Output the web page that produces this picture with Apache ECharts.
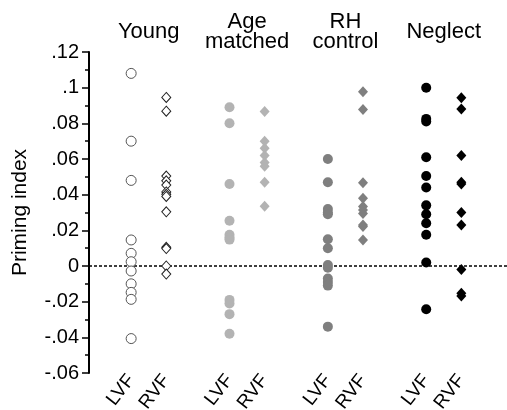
<!DOCTYPE html>
<html>
<head>
<meta charset="utf-8">
<script src="https://cdn.jsdelivr.net/npm/echarts@6/dist/echarts.min.js"></script>
<style>
  html, body { margin: 0; padding: 0; background: #fff; }
  #chart { width: 507px; height: 410px; }
</style>
</head>
<body>
<div id="chart"></div>
<script>
// x positions of the columns (LVF / RVF per group)
var xPositions = [1, 2, 3.8, 4.8, 6.6, 7.6, 9.4, 10.4];
var xLabels = ['LVF', 'RVF', 'LVF', 'RVF', 'LVF', 'RVF', 'LVF', 'RVF'];
var groupCenters = [1.5, 4.3, 7.1, 9.9];
var groupNames = ['Young', 'Age\nmatched', 'RH\ncontrol', 'Neglect'];

// priming index per subject
var youngLVF = [0.108, 0.070, 0.048, 0.0146, 0.0071, 0.0024, -0.0028, -0.010, -0.0148, -0.0187, -0.0407];
var youngRVF = [0.0945, 0.0868, 0.0504, 0.0478, 0.0454, 0.0415, 0.0402, 0.039, 0.0304, 0.0105, 0.0098, 0.0, -0.0045];
var ageLVF = [0.089, 0.080, 0.046, 0.0254, 0.0175, 0.016, 0.0148, -0.019, -0.021, -0.027, -0.038];
var ageRVF = [0.0866, 0.070, 0.066, 0.062, 0.058, 0.056, 0.047, 0.0335];
var rhLVF = [0.060, 0.047, 0.032, 0.030, 0.029, 0.015, 0.010, 0.0005, -0.001, -0.007, -0.009, -0.011, -0.034];
var rhRVF = [0.0977, 0.0878, 0.0467, 0.038, 0.0333, 0.0314, 0.0295, 0.023, 0.0222, 0.0146];
var neglectLVF = [0.100, 0.0825, 0.081, 0.061, 0.0505, 0.044, 0.034, 0.029, 0.024, 0.0175, 0.002, -0.0243];
var neglectRVF = [0.0943, 0.088, 0.062, 0.047, 0.046, 0.030, 0.023, -0.002, -0.0153, -0.0168];

var font = 'Liberation Sans, Arial, sans-serif';

function pts(x, vals) {
  return vals.map(function (v) { return [x, v]; });
}
function labelAt(list, names) {
  return function (v) {
    for (var i = 0; i < list.length; i++) {
      if (Math.abs(list[i] - v) < 1e-6) return names[i];
    }
    return '';
  };
}
function fmtY(v) {
  var s = String(Math.round(v * 100) / 100);
  return s.replace('0.', '.');
}

var columns = [
  { data: youngLVF, symbol: 'circle', size: 10, fill: '#fff', border: '#555' },
  { data: youngRVF, symbol: 'diamond', size: [9, 10], fill: '#fff', border: '#222' },
  { data: ageLVF, symbol: 'circle', size: 10, fill: '#b3b3b3' },
  { data: ageRVF, symbol: 'diamond', size: [10, 11], fill: '#b3b3b3' },
  { data: rhLVF, symbol: 'circle', size: 10, fill: '#7f7f7f' },
  { data: rhRVF, symbol: 'diamond', size: [10, 11], fill: '#7f7f7f' },
  { data: neglectLVF, symbol: 'circle', size: 10, fill: '#000' },
  { data: neglectRVF, symbol: 'diamond', size: [10, 11], fill: '#000' }
];

var series = columns.map(function (c, i) {
  return {
    type: 'scatter',
    symbol: c.symbol,
    symbolSize: c.size,
    data: pts(xPositions[i], c.data),
    itemStyle: {
      color: c.fill,
      borderColor: c.border || c.fill,
      borderWidth: c.border ? 1 : 0,
      opacity: 1
    },
    z: 3
  };
});

series[0].markLine = {
  silent: true,
  symbol: 'none',
  label: { show: false },
  lineStyle: { color: '#000', type: [3, 2], width: 1.5 },
  data: [{ yAxis: 0 }],
  z: 2
};

var option = {
  animation: false,
  backgroundColor: '#fff',
  grid: { left: 89, right: 0, top: 52, bottom: 37, outerBoundsMode: 'none' },
  xAxis: [
    {
      type: 'value',
      position: 'bottom',
      min: -0.2,
      max: 11.7,
      axisLine: { show: false, onZero: false },
      axisTick: { show: false },
      splitLine: { show: false },
      axisLabel: {
        customValues: xPositions,
        formatter: labelAt(xPositions, xLabels),
        rotate: 52,
        margin: 4,
        fontSize: 19,
        color: '#000',
        fontFamily: font
      }
    },
    {
      type: 'value',
      position: 'top',
      min: -0.2,
      max: 11.7,
      axisLine: { show: false, onZero: false },
      axisTick: { show: false },
      splitLine: { show: false },
      axisLabel: {
        customValues: groupCenters,
        formatter: labelAt(groupCenters, groupNames),
        verticalAlign: 'middle',
        align: 'center',
        margin: 20,
        lineHeight: 20,
        fontSize: 22,
        color: '#000',
        fontFamily: font
      }
    }
  ],
  yAxis: {
    type: 'value',
    min: -0.06,
    max: 0.12,
    interval: 0.02,
    name: 'Priming index',
    nameLocation: 'middle',
    nameGap: 58,
    nameTextStyle: { fontSize: 21, color: '#000', fontFamily: font },
    axisLine: { show: true, onZero: false, lineStyle: { color: '#000', width: 2 } },
    axisTick: { show: true, length: 7, lineStyle: { color: '#000', width: 1.5 } },
    minorTick: { show: true, splitNumber: 2, length: 4, lineStyle: { color: '#000', width: 1.5 } },
    splitLine: { show: false },
    axisLabel: {
      formatter: fmtY,
      margin: 10,
      fontSize: 20,
      color: '#000',
      fontFamily: font
    }
  },
  series: series
};

var chart = echarts.init(document.getElementById('chart'));
chart.setOption(option);
</script>
</body>
</html>
